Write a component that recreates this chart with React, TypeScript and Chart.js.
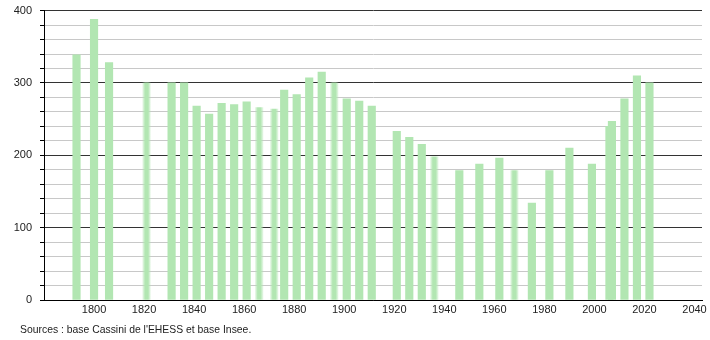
import React, { useEffect, useRef } from "react";
import { Chart, registerables } from "chart.js";

Chart.register(...registerables);

const years = [1793, 1800, 1806, 1821, 1831, 1836, 1841, 1846, 1851, 1856, 1861, 1866, 1872, 1876, 1881, 1886, 1891, 1896, 1901, 1906, 1911, 1921, 1926, 1931, 1936, 1946, 1954, 1962, 1968, 1975, 1982, 1990, 1999, 2006, 2007, 2012, 2017, 2022];
const population = [339, 388, 328, 300, 300, 300, 268, 257, 272, 270, 274, 266, 264, 290, 284, 307, 315, 300, 278, 275, 268, 233, 225, 215, 198, 179, 188, 196, 179, 134, 179, 210, 188, 240, 247, 278, 310, 300];
const blurredYears = [1821, 1866, 1872, 1896, 1936, 1968];
const xTickYears = [1800, 1820, 1840, 1860, 1880, 1900, 1920, 1940, 1960, 1980, 2000, 2020, 2040];
const yTickValues = [0, 20, 40, 60, 80, 100, 120, 140, 160, 180, 200, 220, 240, 260, 280, 300, 320, 340, 360, 380, 400];
const sourceText = "Sources : base Cassini de l'EHESS et base Insee.";

const BAR = "#b2e6b2";
const FONT = "'Liberation Sans', Arial, sans-serif";
const SHIFT = 4;

export default function App() {
  const ref = useRef<HTMLCanvasElement | null>(null);

  useEffect(() => {
    if (!ref.current) return;
    const sourcePlugin = {
      id: "sourceText",
      afterDraw(chart: any) {
        const ctx = chart.ctx;
        ctx.save();
        ctx.font = `10.4px ${FONT}`;
        ctx.fillStyle = "#222";
        ctx.textBaseline = "alphabetic";
        ctx.textAlign = "left";
        ctx.fillText(sourceText, 20, 333 + SHIFT);
        ctx.restore();
      },
    };
    const chart = new Chart(ref.current, {
      type: "bar",
      data: {
        datasets: [
          {
            data: years.map((y, i) => ({ x: y, y: population[i] })),
            barThickness: 7.5,
            backgroundColor: (c: any) => {
              const raw = c.raw;
              const chartObj = c.chart;
              if (!raw || !chartObj.scales || !chartObj.scales.x) return BAR;
              if (!blurredYears.includes(raw.x)) return BAR;
              const px = chartObj.scales.x.getPixelForValue(raw.x);
              const g = chartObj.ctx.createLinearGradient(px - 3.75, 0, px + 3.75, 0);
              g.addColorStop(0, "rgba(178,230,178,0.35)");
              g.addColorStop(0.3, BAR);
              g.addColorStop(0.7, BAR);
              g.addColorStop(1, "rgba(178,230,178,0.35)");
              return g;
            },
            borderWidth: 0,
          } as any,
        ],
      },
      options: {
        responsive: false,
        animation: false,
        layout: { padding: { top: 6, right: 8, left: 0, bottom: 0 } },
        plugins: { legend: { display: false }, tooltip: { enabled: false } },
        scales: {
          x: {
            type: "linear",
            min: 1780,
            max: 2043,
            offset: false,
            grid: { display: false, drawTicks: false },
            border: { color: "#000", width: 1 },
            afterBuildTicks: (s: any) => {
              s.ticks = xTickYears.map((v) => ({ value: v }));
            },
            ticks: {
              padding: 3,
              maxRotation: 0,
              autoSkip: false,
              color: "#222",
              font: { family: FONT, size: 11 },
              callback: (v: any) => String(v),
            },
            afterFit: (s: any) => {
              s.height = 40;
            },
          },
          y: {
            min: 0,
            max: 400,
            afterBuildTicks: (s: any) => {
              s.ticks = yTickValues.map((v) => ({ value: v }));
            },
            grid: {
              color: (c: any) => (c.tick && c.tick.value % 100 === 0 ? "#333" : "#c8c8c8"),
              tickColor: "#000",
              tickLength: 4,
              lineWidth: 1,
            },
            border: { color: "#000", width: 1 },
            ticks: {
              padding: 8,
              autoSkip: false,
              color: "#222",
              font: { family: FONT, size: 11 },
              callback: (v: any) => (v % 100 === 0 ? String(v) : ""),
            },
            afterFit: (s: any) => {
              s.width = 44;
            },
          },
        },
      },
      plugins: [sourcePlugin],
    });
    return () => chart.destroy();
  }, []);

  return (
    <div style={{ position: "fixed", left: 0, top: 0, width: 710, height: 340, overflow: "hidden", background: "#fff" }}>
      <canvas
        ref={ref}
        width={710}
        height={340 + SHIFT}
        style={{ position: "absolute", left: 0, top: -SHIFT, width: 710, height: 340 + SHIFT, display: "block" }}
      />
    </div>
  );
}
